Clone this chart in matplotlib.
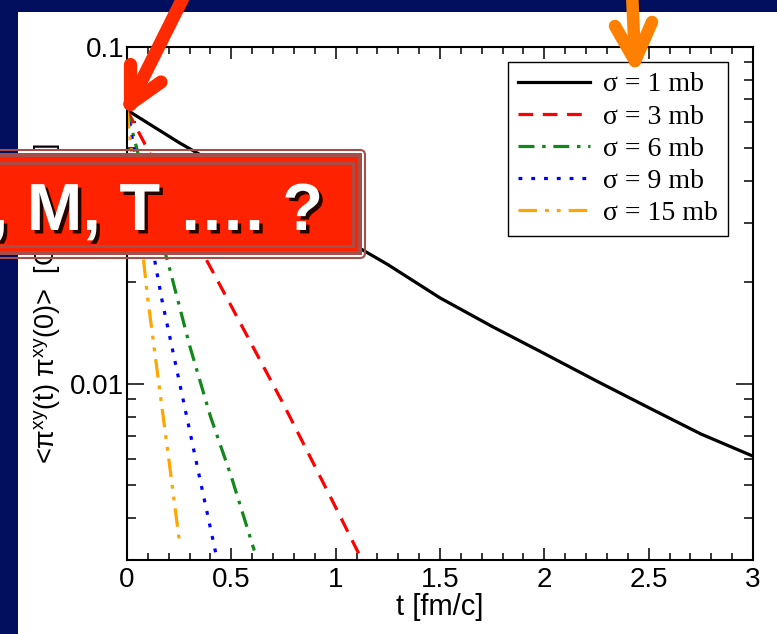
import numpy as np
import matplotlib
matplotlib.use('Agg')
import matplotlib.pyplot as plt
import matplotlib.patheffects as pe
from matplotlib.patches import Rectangle, FancyBboxPatch
from matplotlib.lines import Line2D
from matplotlib.transforms import Affine2D
from matplotlib.ticker import MultipleLocator, LogLocator, FuncFormatter, NullFormatter

plt.rcParams['font.family'] = ['Liberation Sans', 'DejaVu Sans']
plt.rcParams['mathtext.fontset'] = 'custom'
plt.rcParams['mathtext.rm'] = 'Liberation Sans'
plt.rcParams['mathtext.it'] = 'Liberation Sans'

# 数据: 关联函数 <pi^xy(t) pi^xy(0)>, 不同截面
t_1 = [0, 0.25, 0.5, 0.75, 1.0, 1.25, 1.5, 1.75, 2.0, 2.25, 2.5, 2.75, 3.0]
c_1 = [0.065, 0.052, 0.0424, 0.0345, 0.0278, 0.0226, 0.0180, 0.0148, 0.0123, 0.0102, 0.0085, 0.0071, 0.0061]

t_3 = [0, 0.25, 0.5, 0.75, 1.0, 1.15]
c_3 = [0.065, 0.033, 0.0170, 0.0087, 0.0043, 0.0028]

t_6 = [0, 0.1, 0.2, 0.3, 0.4, 0.5, 0.61]
c_6 = [0.065, 0.037, 0.0225, 0.0130, 0.0080, 0.0053, 0.0032]

t_9 = [0, 0.1, 0.167, 0.25, 0.35, 0.43]
c_9 = [0.065, 0.030, 0.0178, 0.0102, 0.0052, 0.00305]

t_15 = [0, 0.05, 0.1, 0.15, 0.2, 0.254]
c_15 = [0.065, 0.034, 0.0178, 0.0103, 0.0060, 0.0033]

labels = ['σ = 1 mb', 'σ = 3 mb', 'σ = 6 mb', 'σ = 9 mb', 'σ = 15 mb']

navy = '#020f5f'
brown = '#a34f4a'

W, H = 777, 634
fig = plt.figure(figsize=(W / 100, H / 100), dpi=100)
fig.patch.set_facecolor(navy)
# 像素坐标 (y 向下)
px = Affine2D().scale(1 / W, -1 / H).translate(0, 1) + fig.transFigure

fig.add_artist(Rectangle((18, 12), W, H, transform=px, facecolor='white',
                         edgecolor='none', zorder=-10))

ax = fig.add_axes([127 / W, 1 - 560 / H, (753 - 127) / W, (560 - 47) / H])

styles = [
    dict(color='black', linestyle='-'),
    dict(color='#ff0000', linestyle=(0, (4.6, 3.0))),
    dict(color='#12871a', linestyle=(0, (5.0, 2.4, 1.1, 2.4))),
    dict(color='#0000ff', linestyle=(0, (1.2, 2.8))),
    dict(color='#ffa500', linestyle=(0, (5.8, 2.5, 1.2, 2.5, 1.2, 2.5))),
]
series = [(t_1, c_1), (t_3, c_3), (t_6, c_6), (t_9, c_9), (t_15, c_15)]
for (t, c), st, lab in zip(series, styles, labels):
    ax.plot(t, c, lw=2.3, label=lab, **st)

ax.set_yscale('log')
ax.set_xlim(0, 3)
ax.set_ylim(0.003, 0.1)
ax.xaxis.set_major_locator(MultipleLocator(0.5))
ax.xaxis.set_minor_locator(MultipleLocator(0.1))
ax.xaxis.set_major_formatter(FuncFormatter(lambda v, p: f'{v:g}'))
ax.yaxis.set_major_locator(LogLocator(base=10, numticks=10))
ax.yaxis.set_minor_locator(LogLocator(base=10, subs=np.arange(2, 10), numticks=10))
ax.yaxis.set_major_formatter(FuncFormatter(lambda v, p: f'{v:g}'))
ax.yaxis.set_minor_formatter(NullFormatter())

ax.tick_params(which='both', direction='in', top=True, right=True, width=1.1, colors='black')
ax.tick_params(axis='x', which='major', length=8.6, labelsize=20, pad=5)
ax.tick_params(axis='x', which='minor', length=4.7)
ax.tick_params(axis='y', which='major', length=12.5, labelsize=20, pad=2)
ax.tick_params(axis='y', which='minor', length=6.5)
for sp in ax.spines.values():
    sp.set_linewidth(1.5)

ax.set_xlabel('t [fm/c]', fontsize=21, labelpad=0)
ax.set_ylabel(r'<π$^{\mathregular{xy}}$(t) π$^{\mathregular{xy}}$(0)>  [GeV$^{\mathregular{2}}$/fm$^{\mathregular{6}}$]',
              fontsize=19.5, labelpad=5)

leg = ax.legend(loc='upper right', bbox_to_anchor=((728 - 127) / 626, 1 - (62 - 47) / 513),
                borderaxespad=0, fancybox=False, framealpha=1, edgecolor='black',
                prop={'family': 'Liberation Serif', 'size': 20},
                handlelength=2.6, handletextpad=0.47, labelspacing=0.24, borderpad=0.36)
leg.get_frame().set_linewidth(1.0)

# 红色横幅
fig.add_artist(FancyBboxPatch((-20, 150), 385, 108, boxstyle='round,pad=0,rounding_size=5',
                              transform=px, facecolor='none', edgecolor=brown, lw=1.5, zorder=5))
fig.add_artist(Rectangle((-20, 153), 382, 102, transform=px, facecolor=brown,
                         edgecolor='none', zorder=5))
fig.add_artist(Rectangle((-20, 157), 378, 94, transform=px, facecolor='#ff2200',
                         edgecolor='none', zorder=5))
fig.add_artist(Rectangle((-20, 163), 373, 83, transform=px, facecolor='none',
                         edgecolor=brown, lw=2, zorder=5))
fig.text(323, 230, ', M, T …. ?', transform=px, ha='right', va='baseline',
         fontsize=48, fontweight='bold', color='white', zorder=6,
         path_effects=[pe.withSimplePatchShadow(offset=(2.5, -2.5), shadow_rgbFace='black', alpha=0.85)])

# 箭头
def arrow(points_list, color, lw):
    for pts in points_list:
        xs, ys = zip(*pts)
        fig.add_artist(Line2D(xs, ys, transform=px, color=color, lw=lw,
                              solid_capstyle='round', solid_joinstyle='round', zorder=7))

arrow([[(186, -8), (130, 104)], [(130, 104), (130, 64)], [(130, 104), (161, 82)]], '#ff2a00', 9.5)
arrow([[(632, -8), (635, 61)], [(635, 61), (615, 26)], [(635, 61), (652, 22)]], '#ff8000', 9)

fig.savefig('out.png', dpi=100, facecolor=fig.get_facecolor())
